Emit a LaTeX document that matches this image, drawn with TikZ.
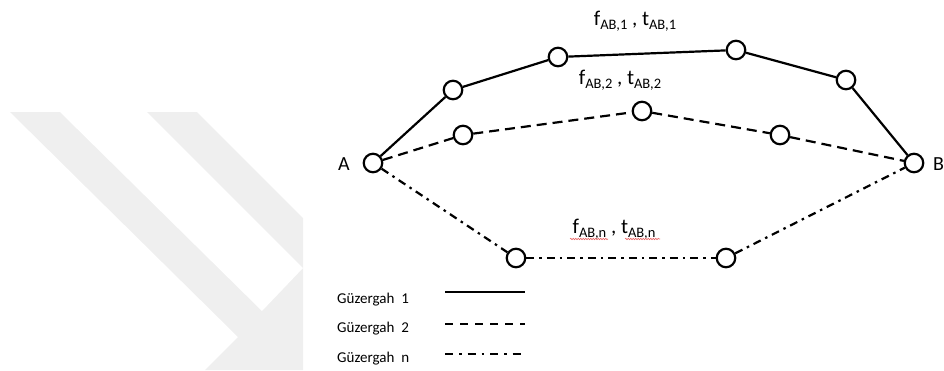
\documentclass[tikz,border=0pt]{standalone}
\usepackage{fontspec}
\setmainfont{Carlito}
\usetikzlibrary{decorations.pathmorphing}
\definecolor{wm}{RGB}{239,239,239}
\definecolor{squig}{RGB}{232,100,100}
\newcommand\sbx[1]{\raisebox{-0.22em}{\fontsize{14.5}{16}\selectfont #1}}
\tikzset{
 stop/.style={circle,draw,line width=2.2pt,minimum size=18.5pt,inner sep=0pt,fill=white},
 r1/.style={line width=2.2pt},
 r2/.style={line width=2.2pt,dash pattern=on 10pt off 6pt},
 rn/.style={line width=2.2pt,dash pattern=on 8pt off 5pt on 2.5pt off 5pt},
 lbl/.style={font=\fontsize{21}{24}\selectfont,anchor=base,inner sep=0pt},
 ep/.style={font=\fontsize{20}{24}\selectfont,inner sep=0pt},
 leg/.style={font=\fontsize{15}{18}\selectfont,anchor=base west,inner sep=0pt},
 wavy/.style={draw=squig,line width=0.6pt,decorate,decoration={snake,amplitude=0.7pt,segment length=2.5pt}}
}
\begin{document}
\begin{tikzpicture}[x=1pt,y=-1pt]
\useasboundingbox (0,0) rectangle (944,370);
% watermark
\fill[wm] (10,112) -- (197,112) -- (303,218) -- (303,370) -- (205,370) -- (238,337) -- cycle;
\fill[white] (60,112) -- (147,112) -- (303,268) -- (262,311) -- cycle;
% stops
\node[stop] (A) at (373,163) {};
\node[stop] (B) at (914,163) {};
\node[stop] (n1) at (453,90) {};
\node[stop] (n2) at (558,57) {};
\node[stop] (n3) at (736,50) {};
\node[stop] (n4) at (846,80) {};
\node[stop] (d1) at (463,135) {};
\node[stop] (d2) at (642,111) {};
\node[stop] (d3) at (780,135) {};
\node[stop] (e1) at (516,258) {};
\node[stop] (e2) at (726,258) {};
% routes
\draw[r1] (A) -- (n1);
\draw[r1] (n1) -- (n2);
\draw[r1] (n2) -- (n3);
\draw[r1] (n3) -- (n4);
\draw[r1] (n4) -- (B);
\draw[r2] (A) -- (d1);
\draw[r2] (d1) -- (d2);
\draw[r2] (d2) -- (d3);
\draw[r2] (d3) -- (B);
\draw[rn] (A) -- (e1);
\draw[rn] (e1) -- (e2);
\draw[rn] (e2) -- (B);
% end labels
\node[ep,anchor=base east] (la) at (350,170) {A};
\node[ep,anchor=base west] (lb) at (933,170) {B};
% route labels
\node[lbl] (t1) at (635,25) {f\sbx{AB,1} , t\sbx{AB,1}};
\node[lbl] (t2) at (620,84) {f\sbx{AB,2} , t\sbx{AB,2}};
\node[lbl] (tn) at (614,233) {f\sbx{AB,n} , t\sbx{AB,n}};
\coordinate (s1a) at (570,239);
\coordinate (s1b) at (608,239);
\coordinate (s2a) at (625,239);
\coordinate (s2b) at (660,239);
\draw[wavy] (s1a) -- (s1b);
\draw[wavy] (s2a) -- (s2b);
% legend
\node[leg] (g1) at (337,303) {Güzergah\ \ 1};
\node[leg] (g2) at (337,332) {Güzergah\ \ 2};
\node[leg] (gn) at (337,362) {Güzergah\ \ n};
\coordinate (l1a) at (445,292);
\coordinate (l1b) at (525,292);
\coordinate (l2a) at (445,324);
\coordinate (l2b) at (525,324);
\coordinate (l3a) at (445,354);
\coordinate (l3b) at (525,354);
\draw[r1] (l1a) -- (l1b);
\draw[line width=2.2pt,dash pattern=on 8pt off 7pt] (l2a) -- (l2b);
\draw[line width=2.2pt,dash pattern=on 8pt off 6pt on 2.5pt off 6pt] (l3a) -- (l3b);
\end{tikzpicture}
\end{document}
